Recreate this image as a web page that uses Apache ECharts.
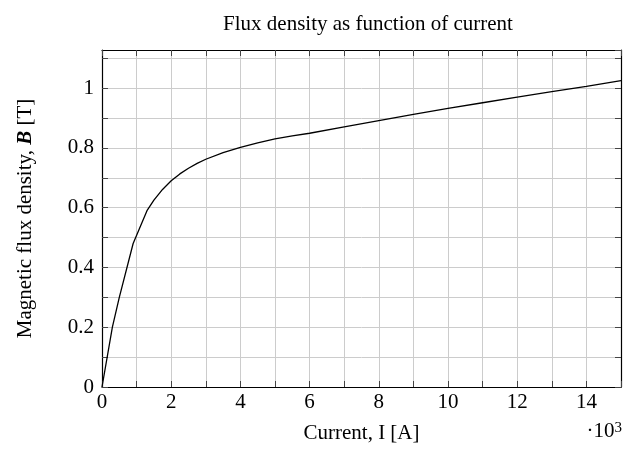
<!DOCTYPE html>
<html>
<head>
<meta charset="utf-8">
<script src="https://cdn.jsdelivr.net/npm/echarts@6/dist/echarts.min.js"></script>
<style>html,body{margin:0;padding:0;background:#fff}#c{width:624px;height:450px}</style>
</head>
<body>
<div id="c"></div>
<script>
// Data (current in A, flux density in T)
const current = [0, 300, 500, 900, 1300, 1500, 1750, 2000, 2250, 2500, 2750, 3000, 3500, 4000, 4500, 5000, 5500, 6000, 7000, 8000, 9000, 10000, 11000, 12000, 13000, 14000, 15000];
const flux    = [0, 0.20, 0.30, 0.48, 0.59, 0.625, 0.661, 0.690, 0.713, 0.732, 0.748, 0.762, 0.784, 0.802, 0.817, 0.830, 0.840, 0.849, 0.870, 0.891, 0.912, 0.932, 0.951, 0.970, 0.988, 1.006, 1.025];
const xTickLabels = ['0','2','4','6','8','10','12','14'];
const yTickLabels = ['0','0.2','0.4','0.6','0.8','1'];

const FONT = '"Liberation Serif", serif';
const FS = 21;
const points = current.map((c, i) => [c, flux[i]]);
const chart = echarts.init(document.getElementById('c'), null, {renderer: 'canvas'});
const gridC = '#cccccc', tickC = '#444444';
chart.setOption({
  animation: false,
  textStyle: {fontFamily: FONT},
  title: {
    text: 'Flux density as function of current',
    left: 363, top: 9, textAlign: 'center',
    textStyle: {fontFamily: FONT, fontSize: FS, fontWeight: 'normal', color: '#000'}
  },
  grid: {left: 102, top: 50, right: -1, bottom: 63},
  xAxis: [{
    type: 'value', min: 0, max: 15000, interval: 1000,
    name: 'Current, I [A]', nameLocation: 'middle', nameGap: 36,
    nameTextStyle: {fontFamily: FONT, fontSize: FS, color: '#000'},
    axisLine: {show: true, onZero: false, lineStyle: {color: '#000', width: 1.2}},
    axisTick: {show: true, inside: true, length: 6, lineStyle: {color: tickC}},
    axisLabel: {
      margin: 5, fontFamily: FONT, fontSize: FS, color: '#000',
      formatter: v => { const k = Math.round(v / 1000); return k % 2 === 0 ? xTickLabels[k / 2] : ''; }
    },
    splitLine: {show: true, lineStyle: {color: gridC, width: 1}}
  }, {
    type: 'value', min: 0, max: 15000, interval: 1000, position: 'top',
    axisLine: {show: true, onZero: false, lineStyle: {color: '#000', width: 1.2}},
    axisTick: {show: true, inside: true, length: 6, lineStyle: {color: tickC}},
    axisLabel: {show: false}, splitLine: {show: false}
  }],
  yAxis: [{
    type: 'value', min: 0, max: 1.1275, interval: 0.1,
    name: 'Magnetic flux density, {b|B} [T]', nameLocation: 'middle', nameGap: 66, nameRotate: 90,
    nameTextStyle: {fontFamily: FONT, fontSize: FS, color: '#000',
      rich: {b: {fontFamily: FONT, fontSize: FS, fontWeight: 'bold', fontStyle: 'italic', color: '#000'}}},
    axisLine: {show: true, onZero: false, lineStyle: {color: '#000', width: 1.2}},
    axisTick: {show: true, inside: true, length: 6, lineStyle: {color: tickC}},
    axisLabel: {
      margin: 8, fontFamily: FONT, fontSize: FS, color: '#000', showMaxLabel: false,
      formatter: v => { const k = Math.round(v * 10); return (k % 2 === 0 && Math.abs(v * 10 - k) < 1e-6) ? yTickLabels[k / 2] : ''; }
    },
    splitLine: {show: true, lineStyle: {color: gridC, width: 1}}
  }, {
    type: 'value', min: 0, max: 1.1275, interval: 0.1, position: 'right',
    axisLine: {show: true, onZero: false, lineStyle: {color: '#000', width: 1.2}},
    axisTick: {show: true, inside: true, length: 6, lineStyle: {color: tickC}},
    axisLabel: {show: false}, splitLine: {show: false}
  }],
  series: [{
    type: 'line', data: points, xAxisIndex: 0, yAxisIndex: 0,
    showSymbol: false, symbol: 'none', smooth: false,
    lineStyle: {color: '#000', width: 1.3}
  }],
  graphic: [{
    type: 'text', right: 2, top: 421,
    style: {
      text: '·10{s|3}', font: FS + 'px ' + FONT, fill: '#000',
      rich: {s: {fontSize: 15, fontFamily: FONT, verticalAlign: 'top', lineHeight: 15, padding: [0,0,10,0]}}
    }
  }]
});
</script>
</body>
</html>
